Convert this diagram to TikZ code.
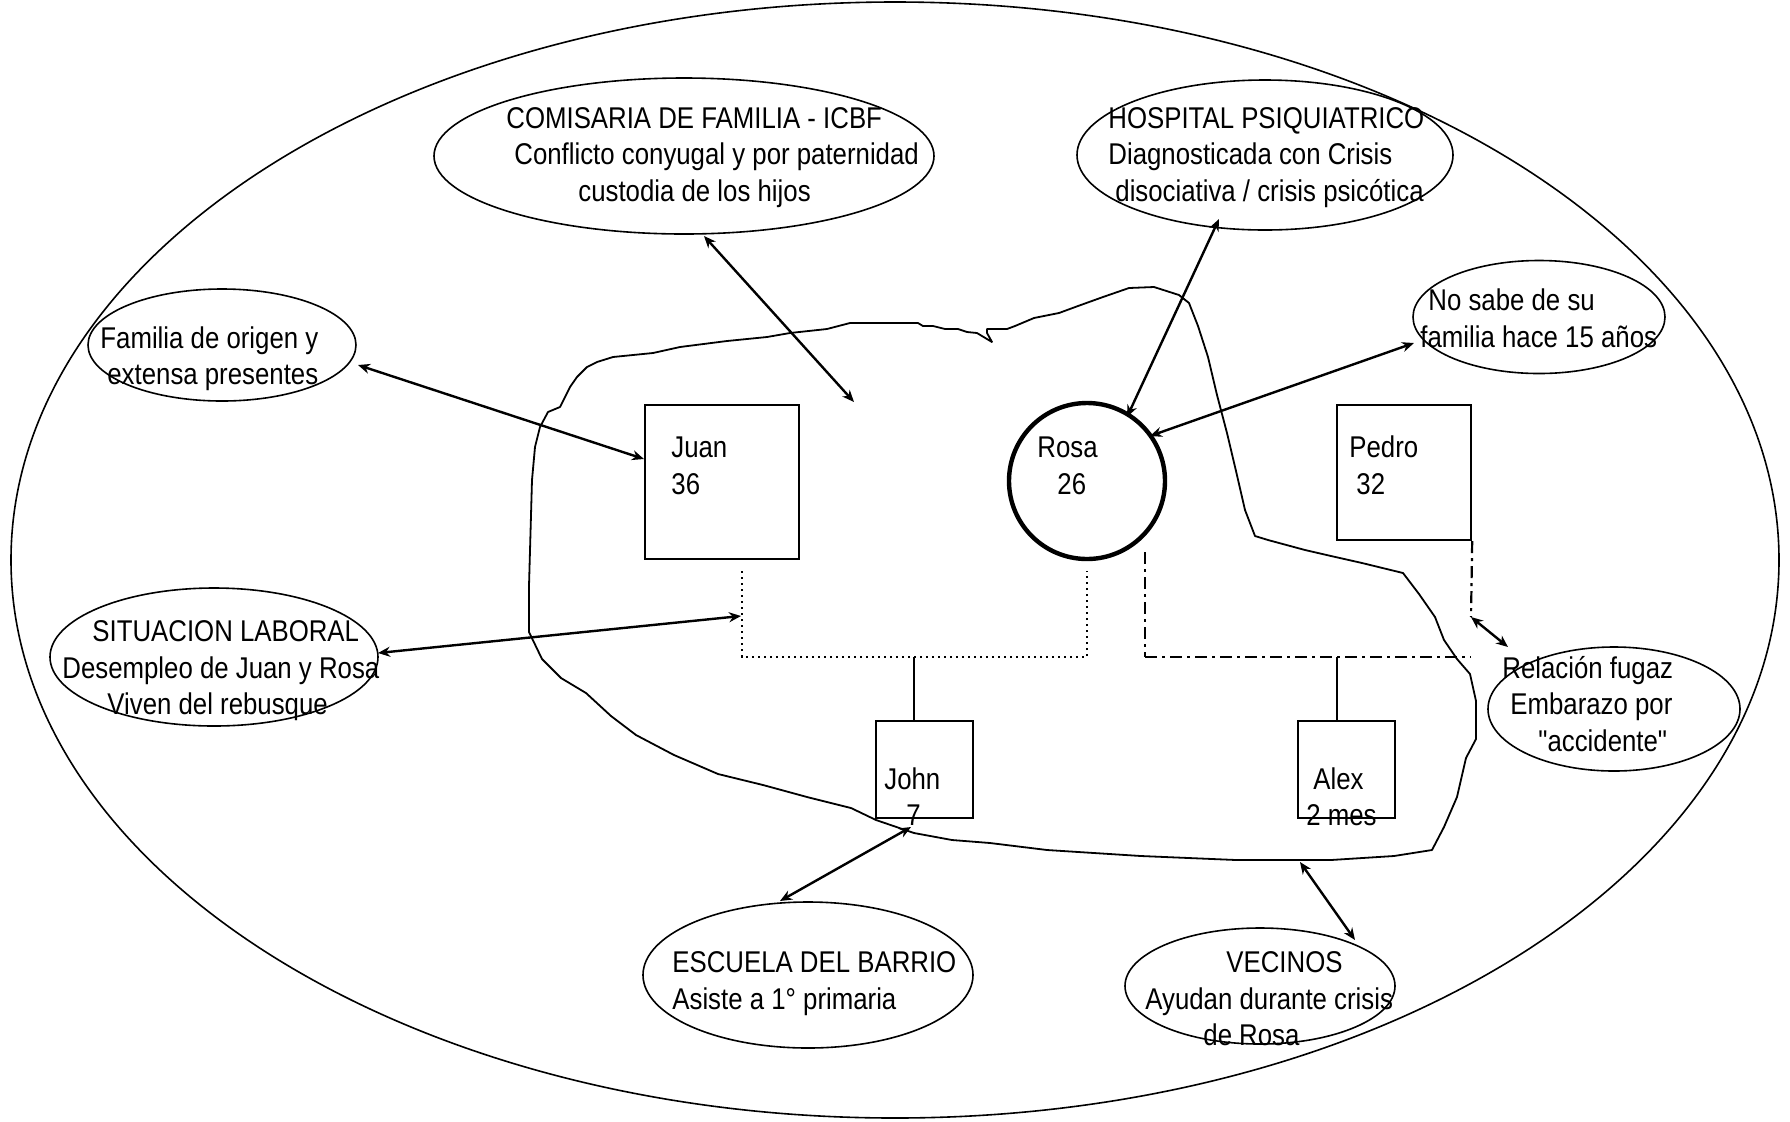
\documentclass[tikz,border=0pt]{standalone}
\usepackage{fontspec}
\setmainfont{Liberation Sans}[FakeStretch=0.86, Ligatures=TeXOff]
\usetikzlibrary{arrows.meta,shapes.geometric}
\begin{document}
\begin{tikzpicture}[x=0.5pt,y=-0.5pt,
  lbl/.style={anchor=base west, inner sep=0pt, font=\fontsize{15pt}{18pt}\selectfont},
  ell/.style={draw, ellipse, line width=0.8pt, inner sep=0pt},
  person/.style={draw, line width=1.2pt, inner sep=0pt},
  link/.style={line width=1.2pt, {Stealth[length=6pt,width=5pt]}-{Stealth[length=6pt,width=5pt]}},
  marr/.style={line width=1.3pt, dash pattern=on 1.2pt off 1.8pt},
  fug/.style={line width=1.1pt, dash pattern=on 6pt off 2.5pt on 1.5pt off 2.5pt},
  kid/.style={line width=1pt},
  blob/.style={line width=0.9pt, line join=round}]

\useasboundingbox (0,0) rectangle (1790,1121);

% ecomap ellipses
\node[ell, minimum width=884pt, minimum height=558pt] (outer) at (895,560) {};
\node[ell, minimum width=250pt, minimum height=78pt] (com) at (684,156) {};
\node[ell, minimum width=188pt, minimum height=75pt] (hos) at (1265,155) {};
\node[ell, minimum width=126pt, minimum height=56.5pt] (nos) at (1539,317) {};
\node[ell, minimum width=134pt, minimum height=56pt] (fam) at (222,345) {};
\node[ell, minimum width=164pt, minimum height=69pt] (sit) at (214,657) {};
\node[ell, minimum width=126pt, minimum height=62pt] (rel) at (1614,709) {};
\node[ell, minimum width=165pt, minimum height=73pt] (esc) at (808,975) {};
\node[ell, minimum width=135pt, minimum height=58pt] (vec) at (1260,986) {};

% family boundary
\draw[blob] (850,323) -- (918,323) -- (923,326) -- (933,326)
 -- (945,329) -- (958,329) -- (967,332) -- (977,333) -- (992,342) -- (987,333) -- (987,329)
 -- (1007,329) -- (1015,326) -- (1034,318) -- (1059,313) -- (1078,306) -- (1103,297)
 -- (1129,288) -- (1154,287) -- (1179,295) -- (1189,303) -- (1198,326) -- (1208,357)
 -- (1217,395) -- (1227,433) -- (1236,471) -- (1245,510) -- (1255,536) -- (1268,540)
 -- (1305,550) -- (1331,556) -- (1362,563) -- (1403,573) -- (1419,594) -- (1435,617)
 -- (1444,640) -- (1457,659) -- (1470,674) -- (1476,701) -- (1476,739) -- (1466,758)
 -- (1457,797) -- (1444,827) -- (1432,850) -- (1394,856) -- (1331,860) -- (1236,860)
 -- (1141,856) -- (1047,850) -- (990,843) -- (952,840) -- (914,833) -- (876,820)
 -- (851,808) -- (807,797) -- (763,785) -- (718,774) -- (674,755) -- (636,735)
 -- (611,716) -- (586,693) -- (561,678) -- (542,659) -- (529,632) -- (529,586)
 -- (532,480) -- (535,447) -- (540,427) -- (548,412) -- (560,407) -- (570,387)
 -- (577,377) -- (587,367) -- (597,362) -- (613,357) -- (653,353) -- (680,347)
 -- (727,341) -- (767,337) -- (790,333) -- (827,329) -- cycle;

% persons
\node[person, minimum width=77pt, minimum height=77pt] (juan) at (722,482) {};
\node[person, circle, line width=2.2pt, minimum size=78pt] (rosa) at (1087,481) {};
\node[person, minimum width=67pt, minimum height=67.5pt] (pedro) at (1404,472.5) {};
\node[person, minimum width=48.5pt, minimum height=48.5pt] (john) at (924.5,769.5) {};
\node[person, minimum width=48.5pt, minimum height=48.5pt] (alex) at (1346.5,769.5) {};

% family links
\coordinate (jd) at (742,571);
\coordinate (jb) at (742,657);
\coordinate (rb) at (1087,657);
\coordinate (rd) at (1087,571);
\coordinate (jk) at (914,657);
\draw[marr] (jd) -- (jb) -- (rb) -- (rd);
\draw[kid] (jk) -- (jk |- john.north);
\coordinate (fa) at (1145,552);
\coordinate (fb) at (1145,657);
\coordinate (fc) at (1471,657);
\coordinate (ak) at (1337,657);
\coordinate (pf) at (1471,617);
\draw[fug] (fa) -- (fb);
\draw[fug] (fb) -- (fc);
\draw[fug] (pedro.south east) -- (pf);
\draw[kid] (ak) -- (ak |- alex.north);

% relations
\coordinate (c1) at (704,236);  \coordinate (c2) at (854,402);
\coordinate (h1) at (1219,219); \coordinate (h2) at (1127,417);
\coordinate (n1) at (1414,343); \coordinate (n2) at (1150,436);
\coordinate (f1) at (358,365);  \coordinate (f2) at (644,459);
\coordinate (s1) at (378,653);  \coordinate (s2) at (741,616);
\coordinate (e1) at (911,827);  \coordinate (e2) at (780,901);
\coordinate (v1) at (1300,862); \coordinate (v2) at (1355,940);
\coordinate (r1) at (1508,647);
\draw[link] (c1) -- (c2);
\draw[link] (h1) -- (h2);
\draw[link] (n1) -- (n2);
\draw[link] (f1) -- (f2);
\draw[link] (s1) -- (s2);
\draw[link] (e1) -- (e2);
\draw[link] (v1) -- (v2);
\draw[link] (pf) -- (r1);

% texts
\node[lbl] (com1) at (506,128) {COMISARIA DE FAMILIA - ICBF};
\node[lbl] (com2) at (514,164) {Conflicto conyugal y por paternidad};
\node[lbl] (com3) at (578,201) {custodia de los hijos};
\node[lbl] (hos1) at (1108,128) {HOSPITAL PSIQUIATRICO};
\node[lbl] (hos2) at (1108,164) {Diagnosticada con Crisis};
\node[lbl] (hos3) at (1115,201) {disociativa / crisis psicótica};
\node[lbl] (nos1) at (1428,310) {No sabe de su};
\node[lbl] (nos2) at (1420,347) {familia hace 15 años};
\node[lbl] (fam1) at (100,348) {Familia de origen y};
\node[lbl] (fam2) at (107,384) {extensa presentes};
\node[lbl] (sit1) at (92,641) {SITUACION LABORAL};
\node[lbl] (sit2) at (62,678) {Desempleo de Juan y Rosa};
\node[lbl] (sit3) at (107,714) {Viven del rebusque};
\node[lbl] (rel1) at (1502,678) {Relación fugaz};
\node[lbl] (rel2) at (1510,714) {Embarazo por};
\node[lbl] (rel3) at (1538,751) {"accidente"};
\node[lbl] (esc1) at (672,972) {ESCUELA DEL BARRIO};
\node[lbl] (esc2) at (672,1009) {Asiste a 1° primaria};
\node[lbl] (vec1) at (1226,972) {VECINOS};
\node[lbl] (vec2) at (1145,1009) {Ayudan durante crisis};
\node[lbl] (vec3) at (1203,1045) {de Rosa};
\node[lbl] (juan1) at (671,457) {Juan};
\node[lbl] (juan2) at (671,494) {36};
\node[lbl] (rosa1) at (1037,457) {Rosa};
\node[lbl] (rosa2) at (1057,494) {26};
\node[lbl] (ped1) at (1349,457) {Pedro};
\node[lbl] (ped2) at (1356,494) {32};
\node[lbl] (john1) at (884,789) {John};
\node[lbl] (john2) at (906,825) {7};
\node[lbl] (alex1) at (1313,789) {Alex};
\node[lbl] (alex2) at (1306,825) {2 mes};
\end{tikzpicture}
\end{document}
